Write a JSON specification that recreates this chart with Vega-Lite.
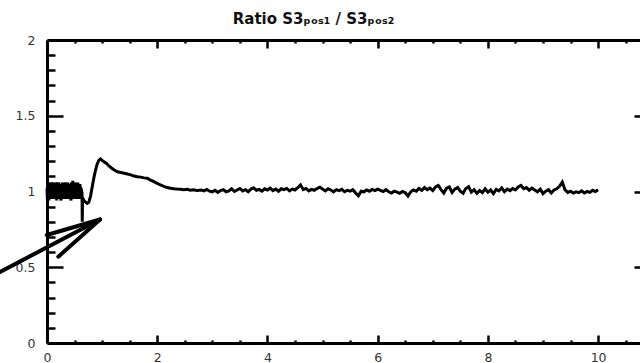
{
  "$schema": "https://vega.github.io/schema/vega-lite/v6.json",
  "autosize": {"type": "none"},
  "padding": {"left": 47, "top": 40, "right": 0, "bottom": 20},
  "width": 593,
  "height": 303,
  "background": "white",
  "title": {
    "text": "Ratio S3ₚₒₛ₁ / S3ₚₒₛ₂",
    "font": "DejaVu Sans",
    "fontSize": 15,
    "fontWeight": "bold",
    "color": "#111",
    "anchor": "middle",
    "baseline": "alphabetic",
    "offset": -5,
    "dx": -30
  },
  "config": {
    "view": {"stroke": null},
    "axis": {
      "grid": false,
      "title": null,
      "tickColor": "black",
      "tickWidth": 2.5,
      "domainColor": "black",
      "domainWidth": 3,
      "labelFont": "DejaVu Sans",
      "labelFontSize": 12.5,
      "labelColor": "#333",
      "labelFlush": false
    }
  },
  "datasets": {
    "series": [
      {"x":0.000,"y":1.02},{"x":0.007,"y":0.95},{"x":0.013,"y":1.06},{"x":0.020,"y":0.97},{"x":0.026,"y":1.05},{"x":0.033,"y":0.94},{"x":0.039,"y":1.04},{"x":0.046,"y":0.96},{"x":0.052,"y":1.06},
      {"x":0.059,"y":0.97},{"x":0.065,"y":1.05},{"x":0.072,"y":0.95},{"x":0.078,"y":1.06},{"x":0.085,"y":0.96},{"x":0.091,"y":1.04},{"x":0.098,"y":0.95},{"x":0.104,"y":1.05},{"x":0.111,"y":0.97},
      {"x":0.117,"y":1.06},{"x":0.124,"y":0.95},{"x":0.130,"y":1.05},{"x":0.137,"y":0.96},{"x":0.143,"y":1.04},{"x":0.150,"y":0.95},{"x":0.156,"y":1.06},{"x":0.163,"y":0.96},{"x":0.169,"y":1.05},
      {"x":0.176,"y":0.94},{"x":0.182,"y":1.05},{"x":0.189,"y":0.97},{"x":0.195,"y":1.06},{"x":0.202,"y":0.95},{"x":0.208,"y":1.06},{"x":0.215,"y":0.96},{"x":0.221,"y":1.04},{"x":0.228,"y":0.95},
      {"x":0.234,"y":1.05},{"x":0.241,"y":0.96},{"x":0.247,"y":1.04},{"x":0.254,"y":0.94},{"x":0.260,"y":1.05},{"x":0.267,"y":0.96},{"x":0.273,"y":1.06},{"x":0.280,"y":0.95},{"x":0.286,"y":1.05},
      {"x":0.293,"y":0.96},{"x":0.299,"y":1.04},{"x":0.306,"y":0.95},{"x":0.312,"y":1.06},{"x":0.319,"y":0.97},{"x":0.325,"y":1.05},{"x":0.332,"y":0.95},{"x":0.338,"y":1.06},{"x":0.345,"y":0.96},
      {"x":0.351,"y":1.04},{"x":0.358,"y":0.95},{"x":0.364,"y":1.05},{"x":0.371,"y":0.96},{"x":0.377,"y":1.06},{"x":0.384,"y":0.95},{"x":0.390,"y":1.05},{"x":0.397,"y":0.97},{"x":0.403,"y":1.04},
      {"x":0.410,"y":0.95},{"x":0.416,"y":1.05},{"x":0.423,"y":0.96},{"x":0.429,"y":1.04},{"x":0.436,"y":0.94},{"x":0.442,"y":1.06},{"x":0.449,"y":0.96},{"x":0.455,"y":1.05},{"x":0.462,"y":0.95},
      {"x":0.468,"y":1.07},{"x":0.475,"y":0.96},{"x":0.481,"y":1.05},{"x":0.488,"y":0.95},{"x":0.494,"y":1.04},{"x":0.501,"y":0.96},{"x":0.507,"y":1.06},{"x":0.514,"y":0.95},{"x":0.520,"y":1.06},
      {"x":0.527,"y":0.96},{"x":0.533,"y":1.05},{"x":0.540,"y":0.95},{"x":0.546,"y":1.04},{"x":0.553,"y":0.96},{"x":0.559,"y":1.06},{"x":0.566,"y":0.95},{"x":0.572,"y":1.05},{"x":0.579,"y":0.96},
      {"x":0.585,"y":1.04},{"x":0.592,"y":0.95},{"x":0.598,"y":1.05},{"x":0.605,"y":0.96},{"x":0.611,"y":1.03},{"x":0.618,"y":0.95},{"x":0.624,"y":1.02},{"x":0.630,"y":0.96},{"x":0.635,"y":1.00},
      {"x":0.640,"y":0.80},{"x":0.645,"y":0.96},{"x":0.67,"y":0.94},{"x":0.70,"y":0.93},{"x":0.73,"y":0.922},
      {"x":0.76,"y":0.93},{"x":0.79,"y":0.97},{"x":0.82,"y":1.03},{"x":0.85,"y":1.09},{"x":0.88,"y":1.14},
      {"x":0.91,"y":1.18},{"x":0.94,"y":1.205},{"x":0.97,"y":1.215},{"x":1.00,"y":1.205},{"x":1.04,"y":1.195},
      {"x":1.08,"y":1.185},{"x":1.12,"y":1.17},{"x":1.17,"y":1.155},{"x":1.22,"y":1.142},{"x":1.28,"y":1.13},
      {"x":1.34,"y":1.125},{"x":1.40,"y":1.12},{"x":1.46,"y":1.115},{"x":1.52,"y":1.11},{"x":1.58,"y":1.102},
      {"x":1.64,"y":1.098},{"x":1.70,"y":1.095},{"x":1.76,"y":1.09},{"x":1.82,"y":1.087},{"x":1.88,"y":1.075},
      {"x":1.94,"y":1.065},{"x":2.00,"y":1.054},{"x":2.06,"y":1.043},{"x":2.12,"y":1.034},{"x":2.18,"y":1.026},
      {"x":2.24,"y":1.022},{"x":2.30,"y":1.018},{"x":2.36,"y":1.016},{"x":2.42,"y":1.015},{"x":2.48,"y":1.012},
      {"x":2.54,"y":1.014},{"x":2.60,"y":1.008},{"x":2.66,"y":1.012},{"x":2.72,"y":1.006},
      {"x":2.80,"y":1.010},{"x":2.85,"y":1.004},{"x":2.90,"y":1.014},{"x":2.95,"y":1.002},{"x":3.00,"y":0.998},
      {"x":3.05,"y":1.008},{"x":3.10,"y":0.994},{"x":3.15,"y":1.006},{"x":3.20,"y":1.012},{"x":3.25,"y":0.998},
      {"x":3.30,"y":1.004},{"x":3.35,"y":1.018},{"x":3.40,"y":1.000},{"x":3.45,"y":1.010},{"x":3.50,"y":1.020},
      {"x":3.55,"y":1.004},{"x":3.60,"y":1.012},{"x":3.65,"y":0.998},{"x":3.70,"y":1.016},{"x":3.75,"y":1.024},
      {"x":3.80,"y":1.008},{"x":3.85,"y":1.014},{"x":3.90,"y":1.002},{"x":3.95,"y":1.018},{"x":4.00,"y":1.010},
      {"x":4.05,"y":1.022},{"x":4.10,"y":1.006},{"x":4.15,"y":1.016},{"x":4.20,"y":1.002},{"x":4.25,"y":1.018},
      {"x":4.30,"y":1.012},{"x":4.35,"y":1.020},{"x":4.40,"y":1.004},{"x":4.45,"y":1.016},{"x":4.50,"y":1.010},
      {"x":4.55,"y":1.026},{"x":4.60,"y":1.044},{"x":4.65,"y":1.012},{"x":4.70,"y":1.020},{"x":4.75,"y":1.004},
      {"x":4.80,"y":1.014},{"x":4.85,"y":1.008},{"x":4.90,"y":1.020},{"x":4.95,"y":1.028},{"x":5.00,"y":1.016},
      {"x":5.05,"y":1.004},{"x":5.10,"y":1.018},{"x":5.15,"y":1.010},{"x":5.20,"y":0.998},{"x":5.25,"y":1.012},
      {"x":5.30,"y":1.006},{"x":5.35,"y":1.014},{"x":5.40,"y":0.998},{"x":5.45,"y":1.008},{"x":5.50,"y":1.002},
      {"x":5.55,"y":1.012},{"x":5.60,"y":0.990},{"x":5.65,"y":0.972},{"x":5.70,"y":1.002},{"x":5.75,"y":0.998},
      {"x":5.80,"y":1.010},{"x":5.85,"y":1.002},{"x":5.90,"y":1.014},{"x":5.95,"y":1.006},{"x":6.00,"y":1.016},
      {"x":6.05,"y":1.008},{"x":6.10,"y":1.000},{"x":6.15,"y":1.012},{"x":6.20,"y":0.998},{"x":6.25,"y":0.990},
      {"x":6.30,"y":1.002},{"x":6.35,"y":0.996},{"x":6.40,"y":0.988},{"x":6.45,"y":1.000},{"x":6.50,"y":0.992},
      {"x":6.55,"y":0.970},{"x":6.60,"y":0.998},{"x":6.65,"y":1.010},{"x":6.70,"y":1.002},{"x":6.75,"y":1.020},
      {"x":6.80,"y":1.008},{"x":6.85,"y":1.026},{"x":6.90,"y":1.012},{"x":6.95,"y":1.022},{"x":7.00,"y":1.006},
      {"x":7.05,"y":1.030},{"x":7.10,"y":1.040},{"x":7.15,"y":1.012},{"x":7.20,"y":0.990},{"x":7.25,"y":1.022},
      {"x":7.30,"y":1.030},{"x":7.35,"y":0.994},{"x":7.40,"y":1.016},{"x":7.45,"y":1.026},{"x":7.50,"y":1.002},
      {"x":7.55,"y":0.988},{"x":7.60,"y":1.020},{"x":7.65,"y":1.032},{"x":7.70,"y":0.996},{"x":7.75,"y":1.012},
      {"x":7.80,"y":0.988},{"x":7.85,"y":1.006},{"x":7.90,"y":0.992},{"x":7.95,"y":1.018},{"x":8.00,"y":0.996},
      {"x":8.05,"y":1.010},{"x":8.10,"y":0.986},{"x":8.15,"y":1.014},{"x":8.20,"y":1.004},{"x":8.25,"y":1.024},
      {"x":8.30,"y":0.998},{"x":8.35,"y":1.016},{"x":8.40,"y":1.006},{"x":8.45,"y":1.020},{"x":8.50,"y":1.010},
      {"x":8.55,"y":1.030},{"x":8.60,"y":1.040},{"x":8.65,"y":1.018},{"x":8.70,"y":1.026},{"x":8.75,"y":1.008},
      {"x":8.80,"y":1.022},{"x":8.85,"y":1.010},{"x":8.90,"y":0.998},{"x":8.95,"y":1.016},{"x":9.00,"y":0.986},
      {"x":9.05,"y":1.002},{"x":9.10,"y":1.012},{"x":9.15,"y":0.990},{"x":9.20,"y":1.010},{"x":9.25,"y":1.018},
      {"x":9.30,"y":1.034},{"x":9.35,"y":1.062},{"x":9.40,"y":1.010},{"x":9.45,"y":0.994},{"x":9.50,"y":1.002},
      {"x":9.55,"y":0.990},{"x":9.60,"y":0.998},{"x":9.65,"y":0.992},{"x":9.70,"y":1.004},{"x":9.75,"y":0.990},
      {"x":9.80,"y":1.000},{"x":9.85,"y":0.994},{"x":9.90,"y":1.008},{"x":9.95,"y":1.000},{"x":10.00,"y":1.012}
    ],
    "arrow": [
      {"part":"shaft","x":-1.0,"y":0.441,"x2":0.962,"y2":0.815},
      {"part":"barb1","x":0.962,"y":0.815,"x2":-0.005,"y2":0.713},
      {"part":"barb2","x":0.962,"y":0.815,"x2":0.205,"y2":0.57}
    ]
  },
  "resolve": {"axis": {"x": "independent", "y": "independent"}},
  "layer": [
    {
      "data": {"name": "series"},
      "mark": {"type": "line", "color": "black", "strokeWidth": 3, "strokeJoin": "miter"},
      "encoding": {
        "x": {
          "field": "x", "type": "quantitative",
          "scale": {"domain": [0, 10.76], "nice": false, "zero": false},
          "axis": {"orient": "bottom", "values": [0,2,4,6,8,10], "format": "d", "tickSize": -8, "domain": true, "labels": true, "labelPadding": 16}
        },
        "y": {
          "field": "y", "type": "quantitative",
          "scale": {"domain": [0, 2], "nice": false, "zero": false},
          "axis": {"orient": "left", "values": [0,0.5,1,1.5,2], "format": "~r", "tickSize": -16, "domain": true, "labels": true, "labelPadding": 28}
        }
      }
    },
    {
      "data": {"name": "arrow"},
      "transform": [{"filter": "datum.part === 'shaft'"}],
      "mark": {"type": "rule", "color": "black", "strokeWidth": 4, "strokeCap": "round"},
      "encoding": {
        "x": {"field": "x", "type": "quantitative",
          "axis": {"orient": "bottom", "values": [0.5,1,1.5,2.5,3,3.5,4.5,5,5.5,6.5,7,7.5,8.5,9,9.5,10.5], "tickSize": -3, "domain": false, "labels": false}},
        "y": {"field": "y", "type": "quantitative",
          "axis": {"orient": "left", "values": [0.1,0.2,0.3,0.4,0.6,0.7,0.8,0.9,1.1,1.2,1.3,1.4,1.6,1.7,1.8,1.9], "tickSize": -8, "domain": false, "labels": false}},
        "x2": {"field": "x2"},
        "y2": {"field": "y2"}
      }
    },
    {
      "data": {"name": "arrow"},
      "transform": [{"filter": "datum.part === 'barb1'"}],
      "mark": {"type": "rule", "color": "black", "strokeWidth": 4, "strokeCap": "round"},
      "encoding": {
        "x": {"field": "x", "type": "quantitative",
          "axis": {"orient": "top", "values": [0,2,4,6,8,10], "tickSize": -8, "domain": true, "labels": false}},
        "y": {"field": "y", "type": "quantitative",
          "axis": {"orient": "right", "values": [0.5,1,1.5], "tickSize": -6, "domain": false, "labels": false}},
        "x2": {"field": "x2"},
        "y2": {"field": "y2"}
      }
    },
    {
      "data": {"name": "arrow"},
      "transform": [{"filter": "datum.part === 'barb2'"}],
      "mark": {"type": "rule", "color": "black", "strokeWidth": 4, "strokeCap": "round"},
      "encoding": {
        "x": {"field": "x", "type": "quantitative",
          "axis": {"orient": "top", "values": [0.5,1,1.5,2.5,3,3.5,4.5,5,5.5,6.5,7,7.5,8.5,9,9.5,10.5], "tickSize": -3, "domain": false, "labels": false}},
        "y": {"field": "y", "type": "quantitative", "axis": null},
        "x2": {"field": "x2"},
        "y2": {"field": "y2"}
      }
    }
  ]
}
